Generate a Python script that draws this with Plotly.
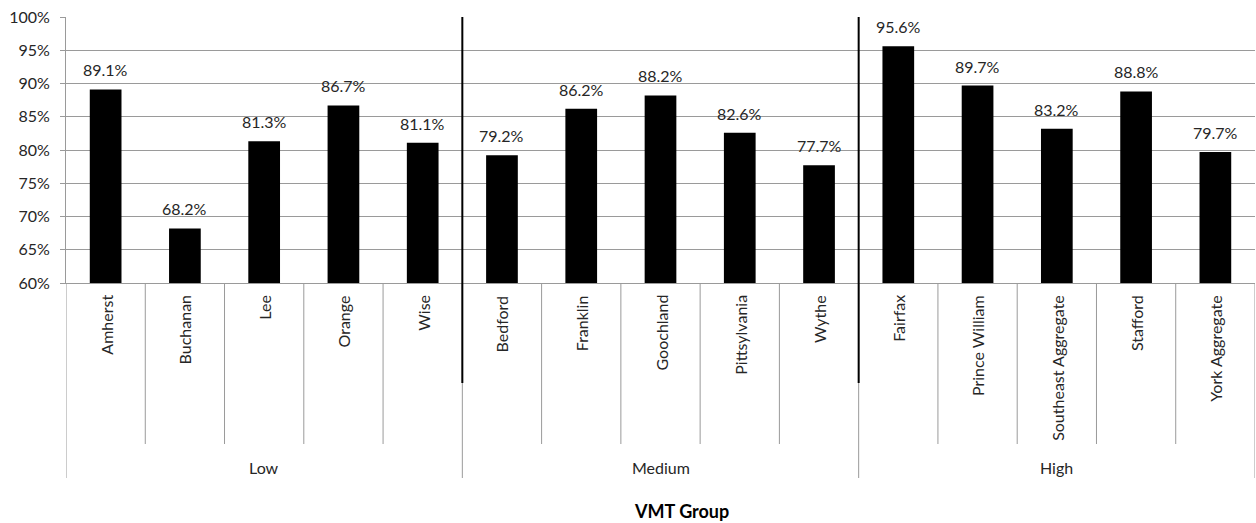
import plotly.graph_objects as go

# Share of values per county, grouped by VMT group
counties = ["Amherst", "Buchanan", "Lee", "Orange", "Wise",
            "Bedford", "Franklin", "Goochland", "Pittsylvania", "Wythe",
            "Fairfax", "Prince William", "Southeast Aggregate", "Stafford", "York Aggregate"]
values = [0.891, 0.682, 0.813, 0.867, 0.811,
          0.792, 0.862, 0.882, 0.826, 0.777,
          0.956, 0.897, 0.832, 0.888, 0.797]
groups = ["Low", "Medium", "High"]
group_sizes = [5, 5, 5]
y_ticks = [0.60, 0.65, 0.70, 0.75, 0.80, 0.85, 0.90, 0.95, 1.00]

FONT = "Lato, Open Sans, sans-serif"
FS = 16
TXT = "#262626"
GRID = "#9a9a9a"

W, H = 1256, 523
M_L, M_R, M_T, M_B = 66, 1, 17, 240
plot_w = W - M_L - M_R
plot_h = H - M_T - M_B


def py(px):
    """Pixel row below the plot area -> paper y coordinate."""
    return -(px - (H - M_B)) / plot_h


def px_x(px):
    """Pixel column -> paper x coordinate."""
    return (px - M_L) / plot_w


x_idx = list(range(len(counties)))

fig = go.Figure()
fig.add_trace(go.Bar(
    x=x_idx, y=values, width=0.4,
    marker=dict(color="black", line=dict(width=0)),
    hoverinfo="skip",
))

shapes = []
annotations = []

# data labels above bars
for i, v in enumerate(values):
    annotations.append(dict(
        x=i, y=v, xref="x", yref="y", text=f"{v*100:.1f}%",
        showarrow=False, yanchor="bottom", yshift=8,
        font=dict(family=FONT, size=FS, color=TXT),
    ))

# rotated category labels
for i, name in enumerate(counties):
    annotations.append(dict(
        x=i, y=py(293), xref="x", yref="paper", text=name,
        textangle=-90, showarrow=False, yanchor="top", xanchor="center",
        font=dict(family=FONT, size=FS, color=TXT),
    ))

# separators between categories and groups
start = 0
bounds = [-0.5]
for g, n in zip(groups, group_sizes):
    end = start + n
    for k in range(start + 1, end):
        shapes.append(dict(type="line", xref="x", yref="paper",
                           x0=k - 0.5, x1=k - 0.5, y0=0, y1=py(444),
                           line=dict(color=GRID, width=1)))
    annotations.append(dict(
        x=(start + end - 1) / 2, y=py(467), xref="x", yref="paper", text=g,
        showarrow=False, yanchor="middle",
        font=dict(family=FONT, size=FS, color=TXT),
    ))
    bounds.append(end - 0.5)
    start = end

for b in bounds:
    shapes.append(dict(type="line", xref="x", yref="paper",
                       x0=b, x1=b, y0=0, y1=py(478),
                       line=dict(color=GRID, width=1)))

# black dividers between VMT groups
for b in bounds[1:-1]:
    shapes.append(dict(type="line", xref="x", yref="paper",
                       x0=b, x1=b, y0=1, y1=py(383),
                       line=dict(color="black", width=2)))

# axis title
annotations.append(dict(
    x=px_x(681), y=py(511), xref="paper", yref="paper", text="<b>VMT Group</b>",
    showarrow=False, yanchor="middle", xanchor="center",
    font=dict(family=FONT, size=18, color="black"),
))

fig.update_layout(
    width=W, height=H,
    margin=dict(l=M_L, r=M_R, t=M_T, b=M_B),
    paper_bgcolor="white", plot_bgcolor="white",
    showlegend=False,
    shapes=shapes, annotations=annotations,
    xaxis=dict(range=[-0.5, len(counties) - 0.5], showticklabels=False,
               showgrid=False, zeroline=False, showline=True,
               linecolor=GRID, linewidth=1, ticks=""),
    yaxis=dict(range=[0.6, 1.0], tickvals=y_ticks,
               ticktext=[f"{int(round(t*100))}%" for t in y_ticks],
               showgrid=True, gridcolor=GRID, gridwidth=1,
               zeroline=False, showline=True, linecolor=GRID, linewidth=1,
               ticks="outside", ticklen=5, tickcolor=GRID,
               ticklabelstandoff=7,
               tickfont=dict(family=FONT, size=FS, color=TXT)),
)

fig.write_html("out.html")
